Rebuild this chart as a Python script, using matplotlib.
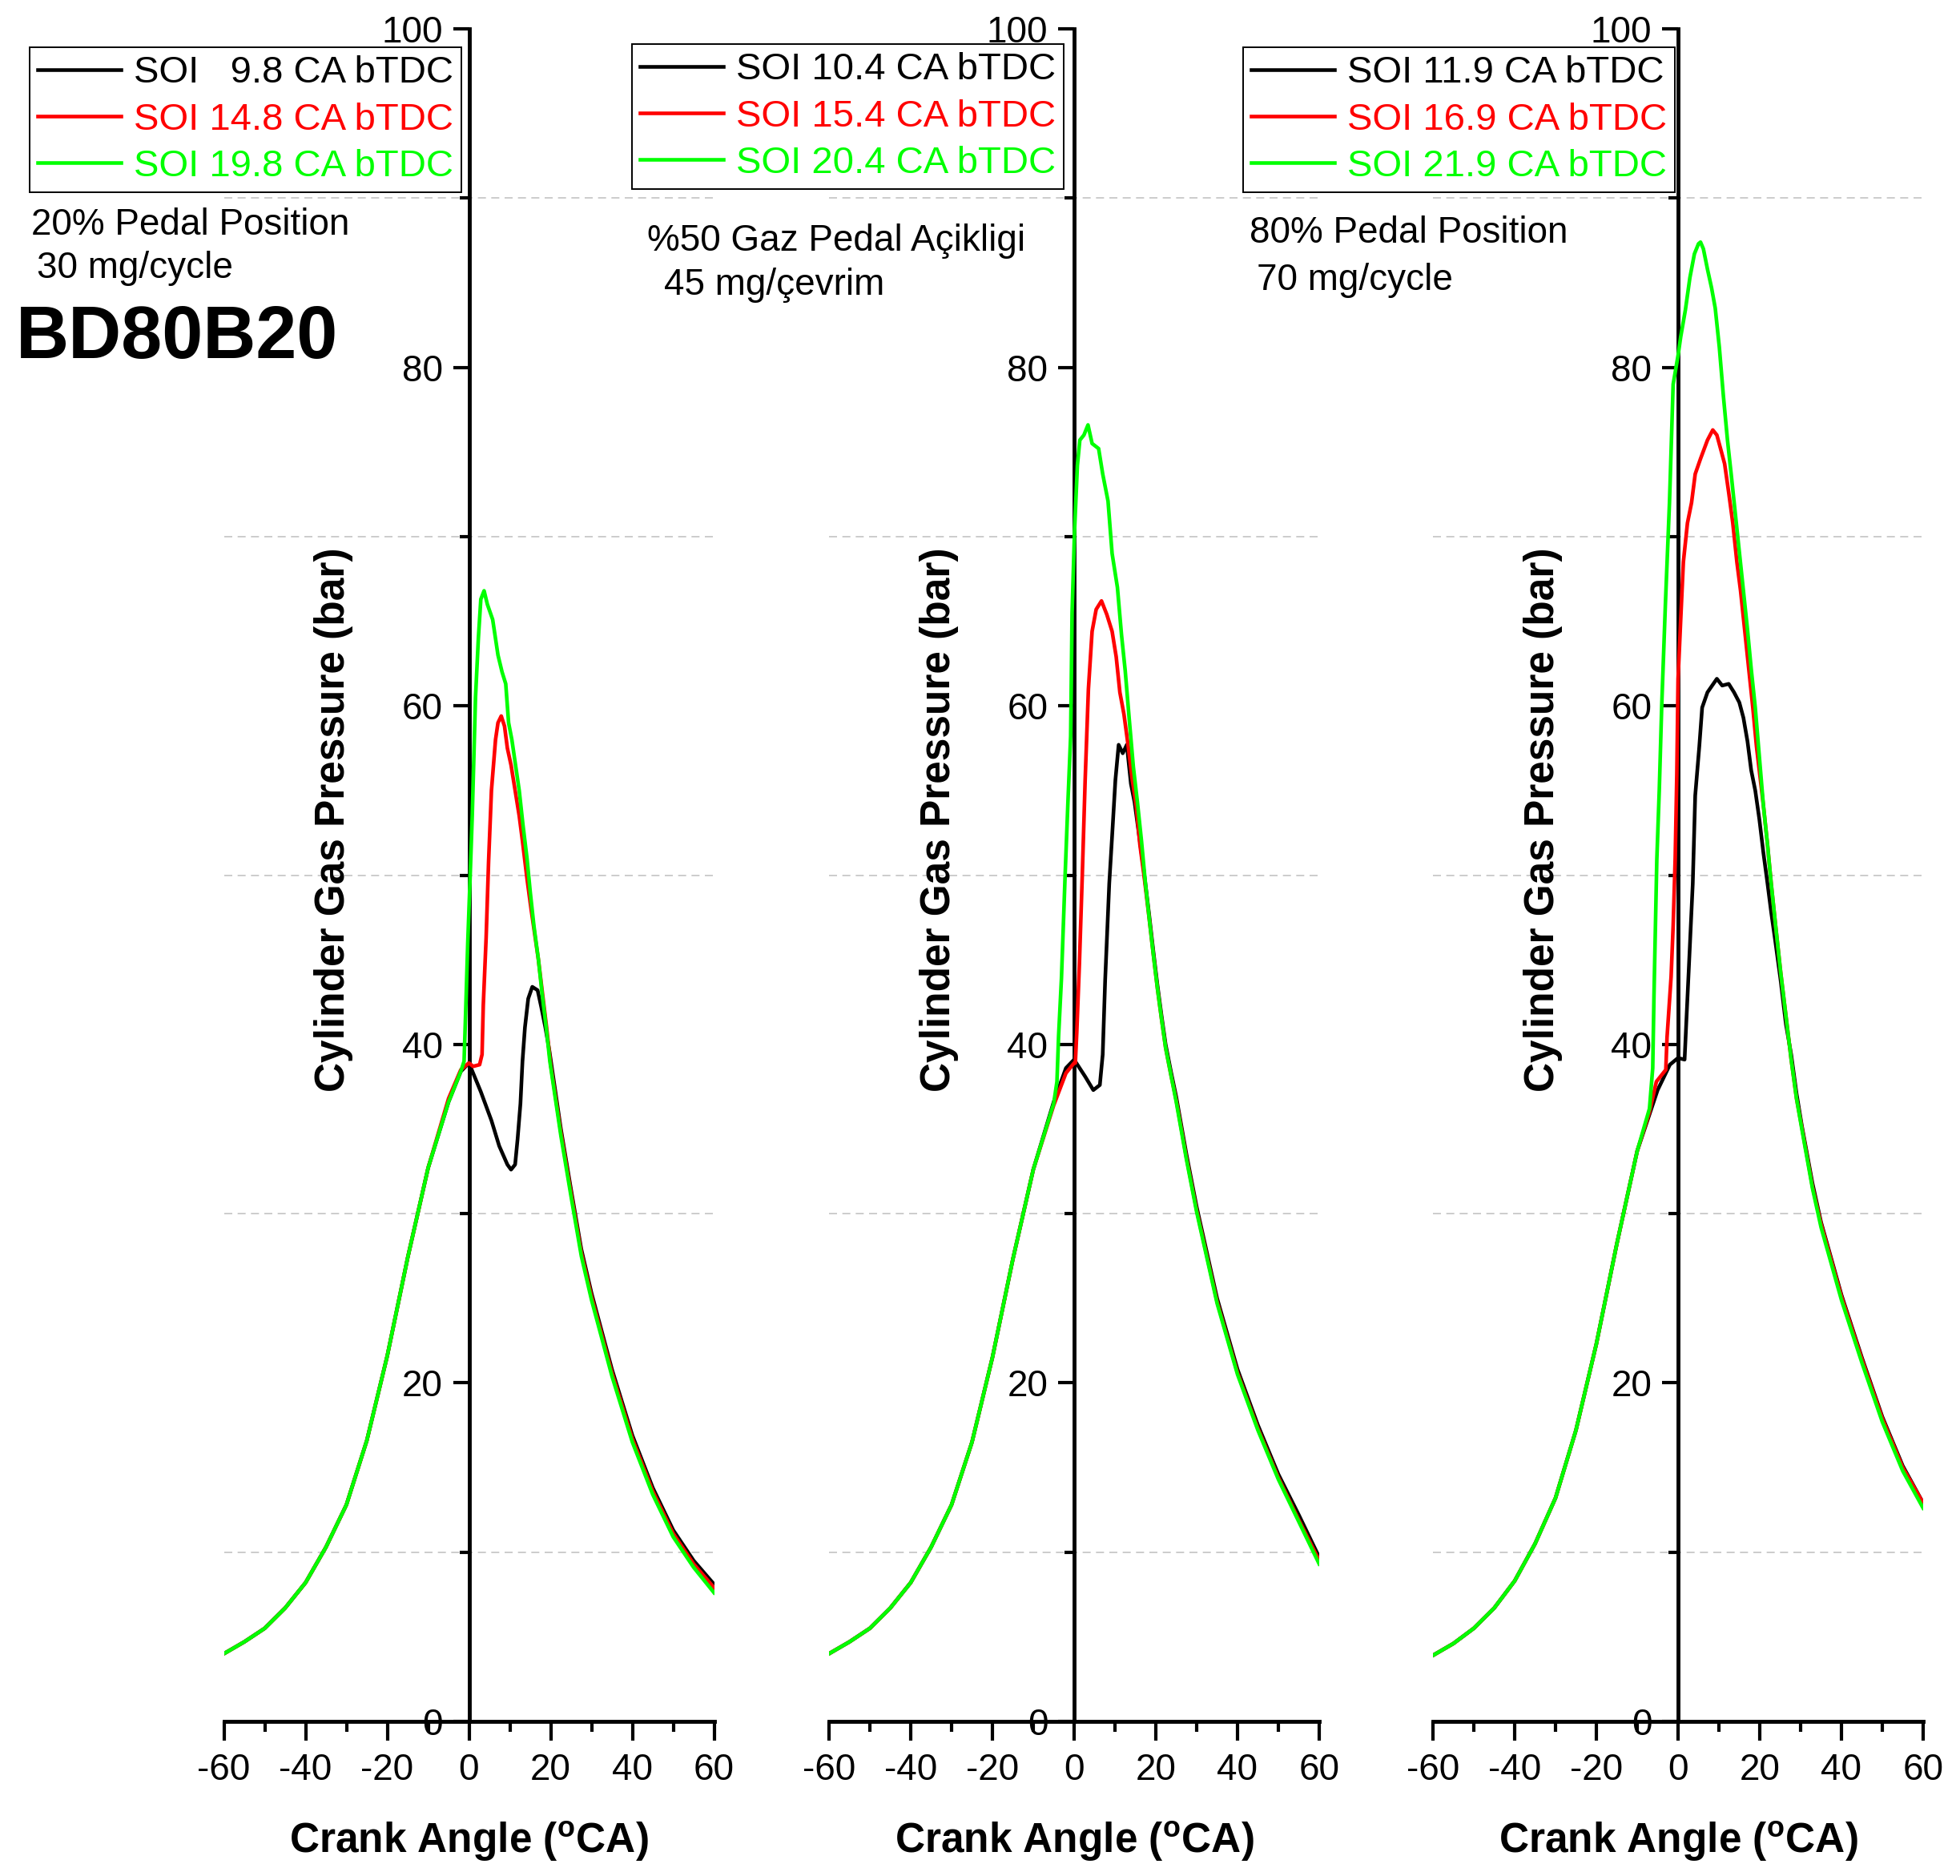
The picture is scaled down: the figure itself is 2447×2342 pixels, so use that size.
import matplotlib
matplotlib.use('Agg')
import matplotlib.pyplot as plt

plt.rcParams['font.family'] = ['Liberation Sans', 'DejaVu Sans']
plt.rcParams['axes.unicode_minus'] = False
plt.rcParams['mathtext.fontset'] = 'custom'
plt.rcParams['mathtext.rm'] = 'Liberation Sans'
plt.rcParams['mathtext.bf'] = 'Liberation Sans:bold'

# ~ DATA ~ (crank angle in deg, cylinder pressure in bar)
comp_angle = [-60, -55, -50, -45, -40, -35, -30, -25, -20, -15, -10]
p1_comp = [4.0, 4.7, 5.5, 6.7, 8.2, 10.3, 12.8, 16.6, 21.6, 27.4, 32.7]
p2_comp = [4.0, 4.7, 5.5, 6.7, 8.2, 10.3, 12.8, 16.5, 21.5, 27.3, 32.6]
p3_comp = [3.9, 4.6, 5.5, 6.7, 8.3, 10.5, 13.2, 17.2, 22.3, 28.2, 33.7]

# panel 1 : 20% pedal, 30 mg/cycle
p1_black_angle = [-5, -2, 0, 2.9, 5.5, 7.4, 9.4, 10.3, 11.3, 11.9, 12.6, 13.1, 13.7, 14.5, 15.5,
                  16.8, 17.7, 18.7, 19.7, 22.5, 25, 27.5, 30, 35, 40, 45, 50, 55, 60]
p1_black = [36.6, 38.4, 38.9, 37.2, 35.5, 34.0, 32.9, 32.6, 32.9, 34.4, 36.5, 39.0, 41.0, 42.7, 43.4,
            43.2, 42.2, 41.0, 39.6, 35.0, 31.4, 27.9, 25.3, 20.8, 16.9, 13.8, 11.3, 9.5, 8.1]
p1_red_angle = [-5, -2, 0, 1.0, 2.6, 3.2, 3.5, 4.2, 4.8, 5.5, 6.5, 7.1, 7.9, 8.7, 9.4, 10.3, 11.3,
                12.3, 13.1, 14.2, 15.2, 17.0, 19.0, 20.0, 22.5, 25, 27.5, 30, 35, 40, 45, 50, 55, 60]
p1_red = [36.8, 38.5, 38.9, 38.7, 38.8, 39.4, 42.3, 46.3, 50.8, 55.0, 58.0, 59.0, 59.4, 58.8, 57.5,
          56.5, 55.0, 53.5, 52.0, 49.8, 48.0, 45.0, 41.0, 38.8, 34.8, 31.2, 27.7, 25.1, 20.6, 16.7,
          13.6, 11.1, 9.3, 7.9]
p1_green_angle = [-5, -2, -1.2, -0.8, -0.3, 0.3, 0.8, 1.6, 2.3, 2.9, 3.7, 4.5, 5.8, 7.1, 8.1, 9.0,
                  9.7, 10.5, 11.4, 12.3, 13.2, 14.2, 15.0, 15.9, 17.0, 17.9, 18.9, 19.8, 22.5, 25,
                  27.5, 30, 35, 40, 45, 50, 55, 60]
p1_green = [36.6, 38.4, 39.0, 42.0, 46.0, 50.0, 53.5, 60.5, 64.0, 66.3, 66.8, 66.0, 65.1, 63.0, 62.0,
            61.3, 59.0, 58.0, 56.5, 55.0, 53.0, 51.0, 49.0, 47.0, 45.0, 43.0, 41.0, 39.0, 34.6, 31.0,
            27.5, 24.9, 20.4, 16.5, 13.4, 10.9, 9.1, 7.6]

# panel 2 : 50% pedal, 45 mg/cycle
p2_black_angle = [-5, -2, 0, 2.7, 4.7, 6.3, 7.0, 7.6, 8.6, 9.3, 10.1, 10.9, 11.9, 12.9, 13.9, 14.8,
                  16.1, 17.1, 18.4, 19.4, 20.4, 21.4, 22.4, 23.7, 25, 27.5, 30, 35, 40, 45, 50, 55, 60]
p2_black = [36.6, 38.6, 39.1, 38.1, 37.3, 37.6, 39.4, 43.8, 49.5, 52.3, 55.6, 57.7, 57.2, 57.7, 55.4,
            54.3, 52.0, 50.2, 47.6, 45.5, 43.5, 41.7, 40.0, 38.4, 36.9, 33.5, 30.4, 25.0, 20.8, 17.5,
            14.6, 12.2, 9.7]
p2_red_angle = [-5, -2, 0, 0.3, 0.65, 1.3, 2.0, 2.7, 3.5, 4.4, 5.4, 6.7, 8.0, 9.3, 10.3, 11.2, 12.2,
                13.2, 14.2, 15.2, 16.1, 17.1, 18.4, 19.4, 20.4, 21.4, 22.4, 23.7, 25, 27.5, 30, 35,
                40, 45, 50, 55, 60]
p2_red = [36.4, 38.3, 38.9, 38.9, 40.7, 44.8, 50.0, 55.6, 61.0, 64.4, 65.7, 66.2, 65.4, 64.4, 62.9,
          60.8, 59.5, 57.7, 55.7, 54.1, 51.8, 50.0, 47.4, 45.3, 43.3, 41.5, 39.8, 38.2, 36.7, 33.3,
          30.2, 24.8, 20.6, 17.3, 14.4, 11.9, 9.5]
p2_green_angle = [-5, -4.2, -3.8, -3.1, -2.2, -1.5, -0.85, -0.5, 0.1, 0.8, 1.4, 2.4, 3.4, 4.4, 6.0,
                  7.0, 8.3, 9.3, 10.6, 11.6, 12.5, 13.5, 14.5, 15.5, 16.5, 17.5, 18.4, 19.4, 20.4,
                  21.4, 22.4, 23.7, 25, 27.5, 30, 35, 40, 45, 50, 55, 60]
p2_green = [36.5, 37.8, 40.5, 43.9, 50.0, 54.4, 58.2, 65.5, 70.3, 74.2, 75.7, 76.0, 76.6, 75.5, 75.2,
            73.7, 72.1, 69.0, 67.0, 64.2, 62.1, 59.2, 56.4, 54.3, 52.0, 49.4, 47.4, 45.3, 43.3, 41.5,
            39.8, 38.2, 36.6, 33.2, 30.1, 24.7, 20.5, 17.2, 14.3, 11.8, 9.3]

# panel 3 : 80% pedal, 70 mg/cycle
p3_black_angle = [-5, -2, 0, 1.6, 2.0, 2.6, 3.6, 4.2, 5.2, 5.9, 7.2, 9.5, 10.8, 12.4, 13.7, 15.0,
                  16.0, 17.0, 17.9, 18.9, 19.9, 20.9, 21.9, 22.8, 23.8, 25.1, 26.4, 27.7, 29.0,
                  30.3, 32.9, 35, 40, 45, 50, 55, 60]
p3_black = [37.3, 38.8, 39.2, 39.1, 41.2, 44.3, 49.5, 54.7, 57.6, 59.9, 60.8, 61.6, 61.2, 61.3, 60.8,
            60.2, 59.3, 57.9, 56.2, 55.0, 53.3, 51.3, 49.5, 47.8, 46.1, 43.8, 41.2, 39.4, 37.1, 35.2,
            31.8, 29.5, 25.2, 21.5, 18.0, 15.1, 12.9]
p3_red_angle = [-7, -5.3, -3.0, -2.7, -1.7, -1.2, -0.7, -0.3, 0, 0.65, 1.3, 2.3, 3.3, 4.2, 5.5, 7.2,
                8.5, 9.5, 10.4, 11.4, 12.4, 13.4, 14.4, 15.3, 16.3, 17.3, 18.3, 19.2, 20.9, 21.9,
                22.8, 23.8, 25.1, 26.4, 27.7, 29.0, 30.3, 32.9, 35, 40, 45, 50, 55, 60]
p3_red = [36.0, 37.8, 38.5, 40.4, 44.0, 47.0, 51.0, 56.0, 61.6, 65.1, 68.5, 70.8, 72.0, 73.7, 74.6,
          75.7, 76.3, 76.0, 75.2, 74.3, 72.6, 70.8, 68.5, 66.8, 64.5, 62.2, 59.9, 57.6, 54.1, 51.8,
          49.5, 47.2, 44.3, 41.7, 39.1, 36.8, 35.1, 31.6, 29.4, 25.1, 21.4, 17.9, 15.0, 12.9]
p3_green_angle = [-7, -6.2, -5.9, -5.2, -4.6, -4.0, -3.1, -2.1, -1.2, 0, 0.65, 1.8, 2.9, 4.0, 5.0,
                  5.5, 6.2, 7.2, 8.2, 9.1, 10.1, 11.1, 12.1, 13.0, 14.0, 15.0, 16.0, 17.0, 17.9,
                  18.9, 19.9, 20.9, 21.9, 22.8, 23.8, 25.1, 26.4, 27.7, 29.0, 30.3, 32.9, 35, 40,
                  45, 50, 55, 60]
p3_green = [36.2, 38.6, 42.8, 50.9, 55.0, 60.0, 66.0, 72.0, 79.0, 80.7, 81.8, 83.4, 85.3, 86.7, 87.3,
            87.4, 87.0, 85.8, 84.7, 83.5, 81.2, 78.3, 75.7, 73.7, 71.4, 69.1, 66.8, 64.5, 62.2, 59.9,
            57.0, 54.1, 51.8, 49.5, 47.2, 44.3, 41.7, 39.1, 36.8, 35.0, 31.5, 29.2, 24.9, 21.2, 17.7,
            14.8, 12.6]

p1_labels = ['SOI   9.8 CA bTDC', 'SOI 14.8 CA bTDC', 'SOI 19.8 CA bTDC']
p2_labels = ['SOI 10.4 CA bTDC', 'SOI 15.4 CA bTDC', 'SOI 20.4 CA bTDC']
p3_labels = ['SOI 11.9 CA bTDC', 'SOI 16.9 CA bTDC', 'SOI 21.9 CA bTDC']
series_colors = ['#000000', '#ff0000', '#00ff00']

W, H = 2447, 2342
fig = plt.figure(figsize=(W / 100, H / 100), dpi=100)


def draw_panel(left_px, comp, series, labels, legend_xy):
    # axes placed in pixel terms of the reference picture
    ax = fig.add_axes([left_px / W, 1 - 2149 / H, 612 / W, 2113 / H])
    ax.patch.set_visible(False)
    for (angle, pres), color, label in zip(series, series_colors, labels):
        ax.plot(comp_angle + angle, comp + pres, color=color, lw=3.3, label=label, zorder=3)

    ax.set_xlim(-60, 60)
    ax.set_ylim(0, 100)
    ax.spines['left'].set_position(('data', 0))
    ax.spines['top'].set_visible(False)
    ax.spines['right'].set_visible(False)
    for side in ('left', 'bottom'):
        ax.spines[side].set_linewidth(3.5)

    ax.set_xticks(range(-60, 61, 20))
    ax.set_xticks(range(-50, 51, 20), minor=True)
    ax.set_yticks(range(0, 101, 20))
    ax.set_yticks(range(10, 100, 20), minor=True)
    ax.tick_params(axis='x', which='major', length=17, width=3, labelsize=33, pad=11)
    ax.tick_params(axis='x', which='minor', length=9.4, width=3)
    ax.tick_params(axis='y', which='major', length=14.5, width=3, labelsize=33, pad=9)
    ax.tick_params(axis='y', which='minor', length=8.6, width=3)
    ax.grid(which='minor', axis='y', color='#c4c4c4', lw=1.2, ls=(0, (6, 4)))

    ax.set_xlabel(r'Crank Angle ($\mathbf{^{o}}$CA)', fontsize=37, fontweight='bold', va='center')
    ax.xaxis.set_label_coords(0.5, -0.071)
    ax.set_ylabel('Cylinder Gas Pressure (bar)', fontsize=37, fontweight='bold', va='center')
    ax.yaxis.set_label_coords(0.224, 0.533)

    leg = ax.legend(loc='upper left', bbox_to_anchor=(legend_xy[0] / W, 1 - legend_xy[1] / H),
                    bbox_transform=fig.transFigure, borderaxespad=0, fontsize=34,
                    handlelength=2.2, handletextpad=0.33, borderpad=0.22, labelspacing=0.3,
                    labelcolor='linecolor', fancybox=False, framealpha=1, edgecolor='black')
    leg.get_frame().set_linewidth(1.4)
    return ax


draw_panel(279.5, p1_comp,
           [(p1_black_angle, p1_black), (p1_red_angle, p1_red), (p1_green_angle, p1_green)],
           p1_labels, (37, 59))
draw_panel(1035, p2_comp,
           [(p2_black_angle, p2_black), (p2_red_angle, p2_red), (p2_green_angle, p2_green)],
           p2_labels, (789, 55))
draw_panel(1789, p3_comp,
           [(p3_black_angle, p3_black), (p3_red_angle, p3_red), (p3_green_angle, p3_green)],
           p3_labels, (1552, 59))


def fig_text(x, y, s, **kw):
    fig.text(x / W, 1 - y / H, s, ha='left', va='baseline', **kw)


fig_text(39, 293, '20% Pedal Position', fontsize=33)
fig_text(46, 347, '30 mg/cycle', fontsize=33)
fig_text(20, 447, 'BD80B20', fontsize=66, fontweight='bold')
fig_text(808, 313, '%50 Gaz Pedal Açikligi', fontsize=33)
fig_text(829, 368, '45 mg/çevrim', fontsize=33)
fig_text(1560, 303, '80% Pedal Position', fontsize=33)
fig_text(1569, 362, '70 mg/cycle', fontsize=33)

fig.savefig('out.png', dpi=100)
